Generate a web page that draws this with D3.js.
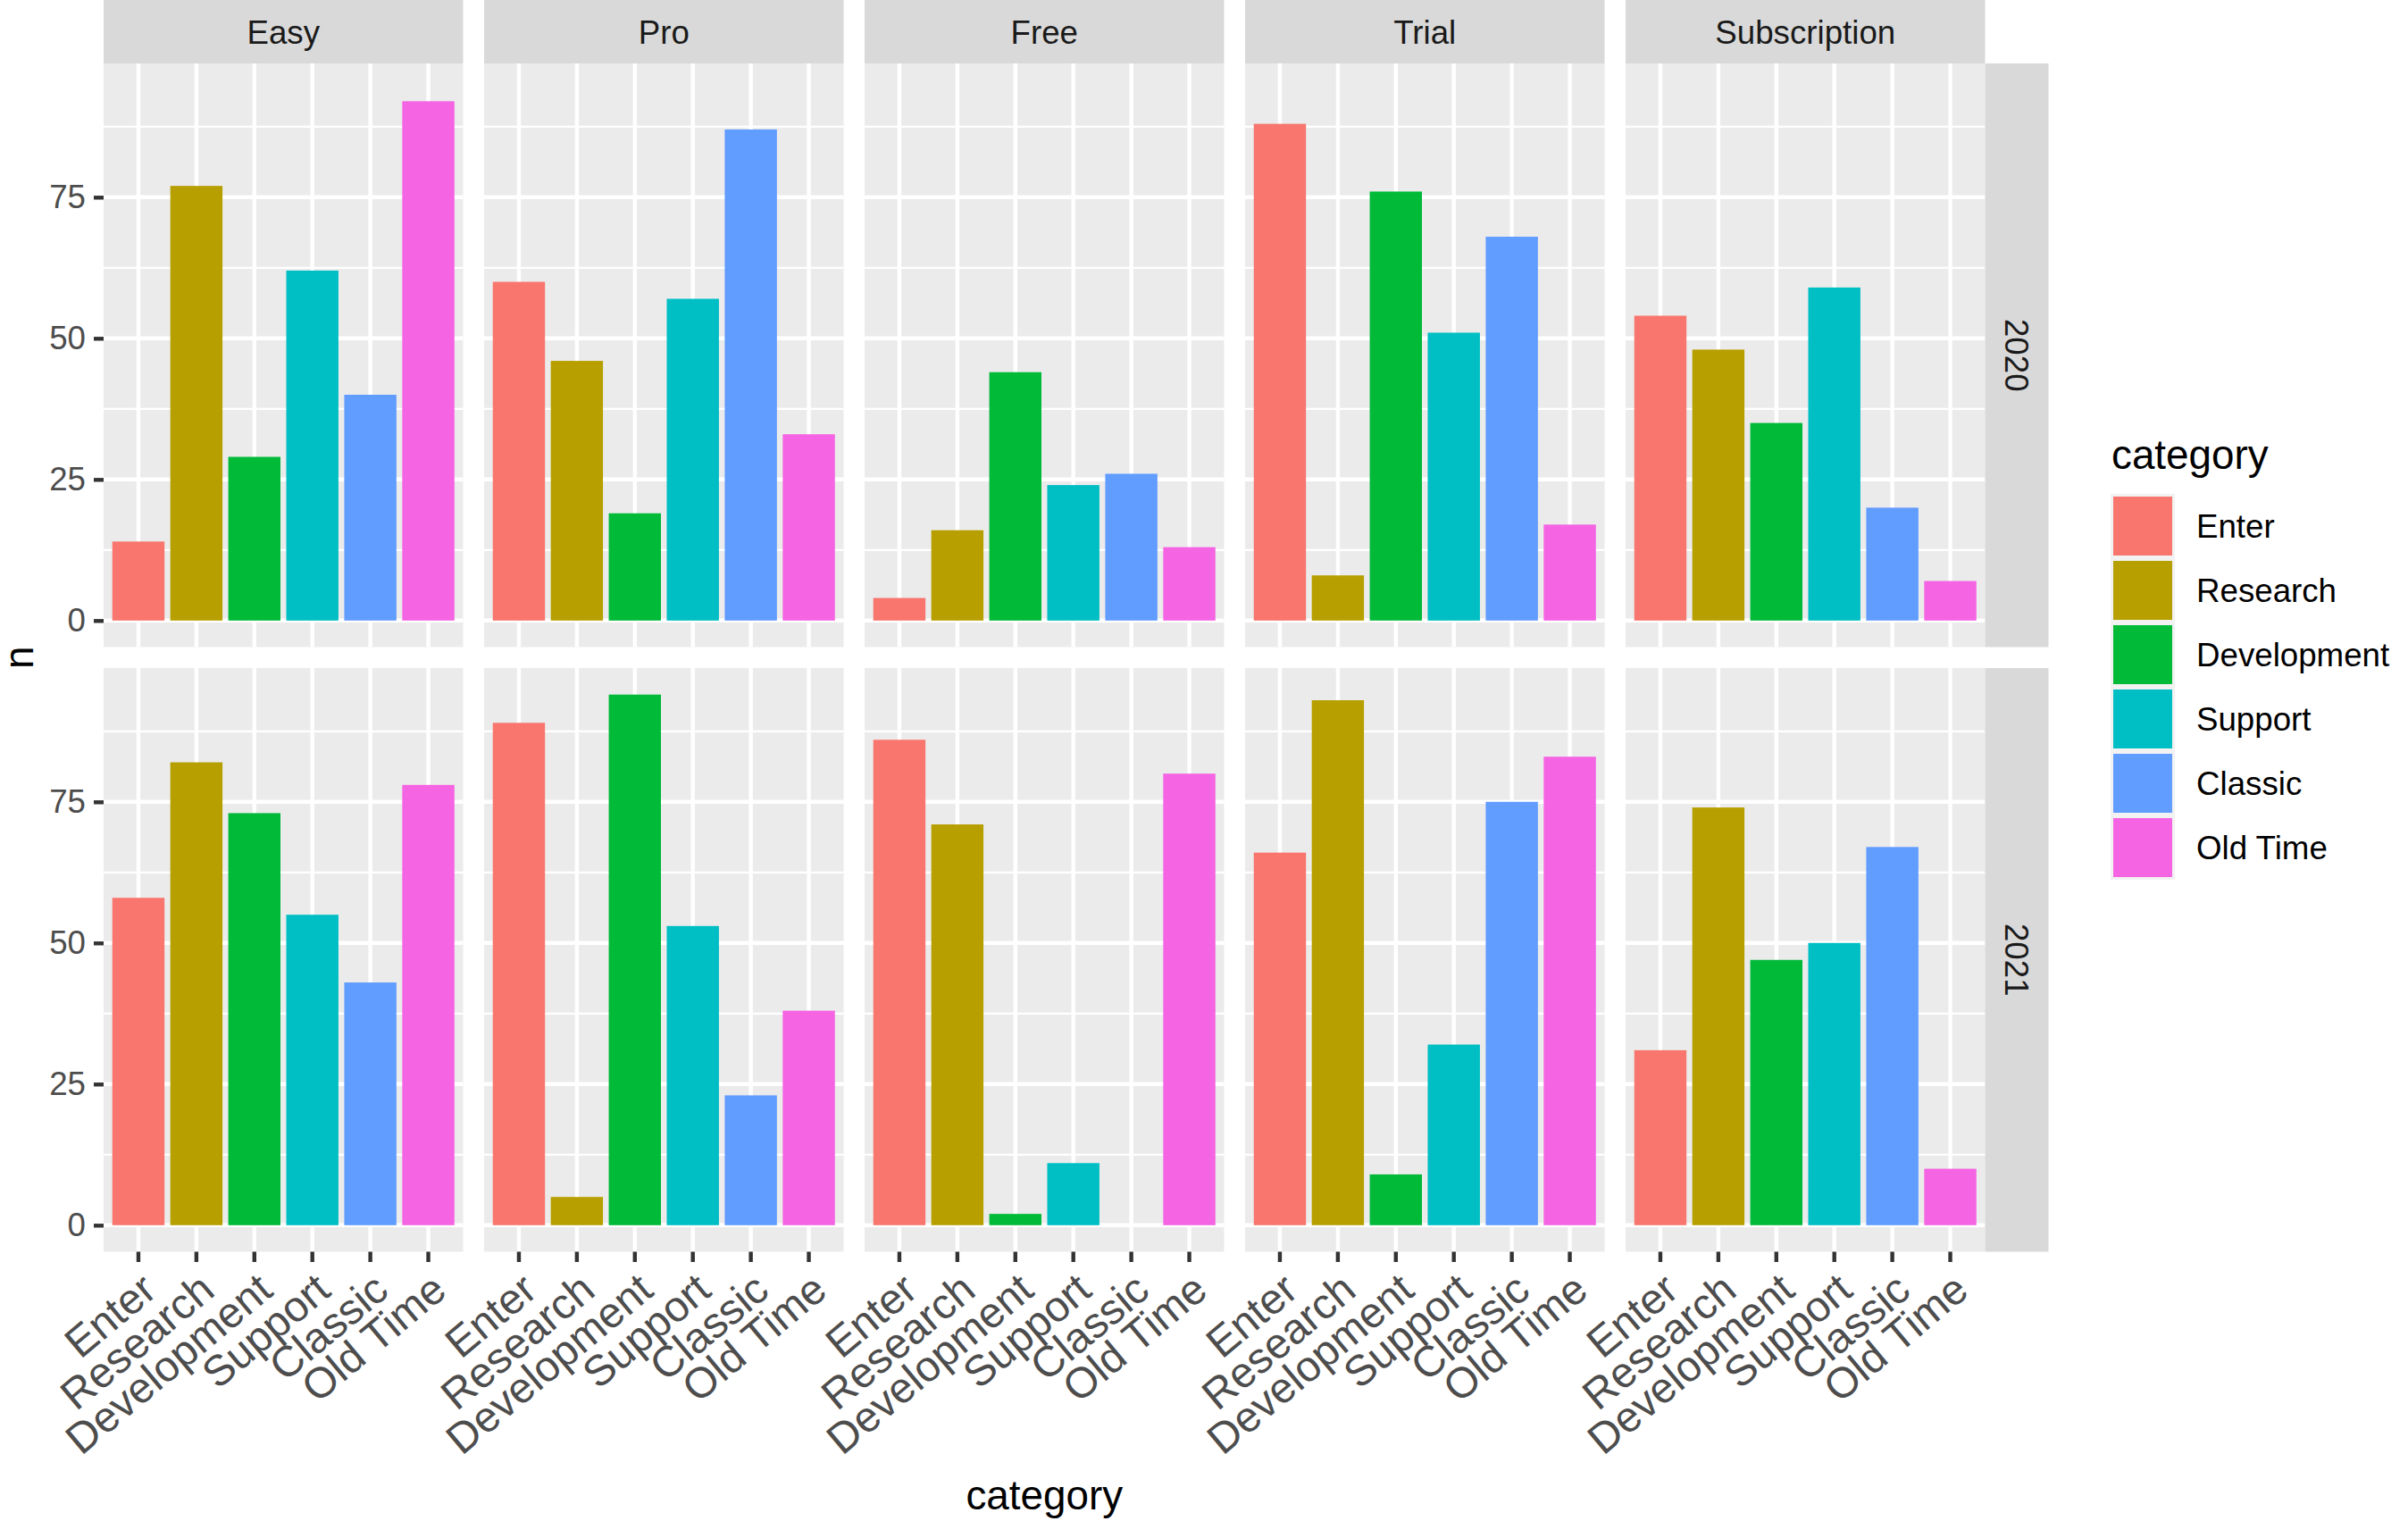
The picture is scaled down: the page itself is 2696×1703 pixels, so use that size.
<!DOCTYPE html>
<html>
<head>
<meta charset="utf-8">
<script src="https://cdn.jsdelivr.net/npm/d3@7"></script>
<style>
  body { margin: 0; background: #fff; }
  svg { display: block; font-family: "Liberation Sans", Arial, sans-serif; }
</style>
</head>
<body>
<svg id="chart"></svg>
<script>
// facet columns / rows and the x categories
const plans = ['Easy', 'Pro', 'Free', 'Trial', 'Subscription'];
const years = ['2020', '2021'];
const categories = ['Enter', 'Research', 'Development', 'Support', 'Classic', 'Old Time'];
const colors = ['#F8766D', '#B79F00', '#00BA38', '#00BFC4', '#619CFF', '#F564E3'];
const yTicks = [0, 25, 50, 75];
const yMinor = [12.5, 37.5, 62.5, 87.5];

// counts n, one array per panel, in category order (null = no bar)
const easy2020 = [14, 77, 29, 62, 40, 92];
const pro2020 = [60, 46, 19, 57, 87, 33];
const free2020 = [4, 16, 44, 24, 26, 13];
const trial2020 = [88, 8, 76, 51, 68, 17];
const subscription2020 = [54, 48, 35, 59, 20, 7];

const easy2021 = [58, 82, 73, 55, 43, 78];
const pro2021 = [89, 5, 94, 53, 23, 38];
const free2021 = [86, 71, 2, 11, null, 80];
const trial2021 = [66, 93, 9, 32, 75, 83];
const subscription2021 = [31, 74, 47, 50, 67, 10];

const panelValues = {
    '2020': [easy2020, pro2020, free2020, trial2020, subscription2020],
    '2021': [easy2021, pro2021, free2021, trial2021, subscription2021]
};

class FacetBars {

    constructor(_config) {
        this.config = {
            parentElement: _config.parentElement,
            width: 2696,
            height: 1703,
            left: 116,
            panelWidth: 402.5,
            panelGap: 23.5,
            stripSize: 71,
            panelHeight: 653.5,
            rowGap: 23.5
        };
        this.initVis();
    }

    initVis() {
        let vis = this;
        const c = vis.config;

        vis.svg = d3.select(c.parentElement)
            .attr('width', c.width)
            .attr('height', c.height);

        // ggplot style discrete scale: 0.6 expansion on each side, bars 0.9 wide
        vis.xScale = d3.scaleBand()
            .domain(categories)
            .range([0, c.panelWidth])
            .paddingInner(0.1)
            .paddingOuter(0.15);

        // continuous scale with 5% expansion
        const all = [];
        years.forEach(y => panelValues[y].forEach(a => a.forEach(v => { if (v != null) all.push(v); })));
        const lo = Math.min(0, d3.min(all)), hi = d3.max(all);
        const pad = (hi - lo) * 0.05;
        vis.yScale = d3.scaleLinear()
            .domain([lo - pad, hi + pad])
            .range([c.panelHeight, 0]);

        vis.colorScale = d3.scaleOrdinal().domain(categories).range(colors);

        vis.renderVis();
    }

    renderVis() {
        let vis = this;
        const c = vis.config;
        const step = c.panelWidth + c.panelGap;
        const rowTop = r => c.stripSize + r * (c.panelHeight + c.rowGap);

        years.forEach((year, r) => {
            plans.forEach((plan, p) => {
                const x0 = c.left + p * step;
                const g = vis.svg.append('g')
                    .attr('transform', `translate(${x0},${rowTop(r)})`);

                g.append('rect')
                    .attr('width', c.panelWidth)
                    .attr('height', c.panelHeight)
                    .attr('fill', '#EBEBEB');

                // minor then major grid
                g.selectAll('.minor').data(yMinor).join('line')
                    .attr('x1', 0).attr('x2', c.panelWidth)
                    .attr('y1', d => vis.yScale(d)).attr('y2', d => vis.yScale(d))
                    .attr('stroke', '#fff').attr('stroke-width', 2.2);
                g.selectAll('.major-y').data(yTicks).join('line')
                    .attr('x1', 0).attr('x2', c.panelWidth)
                    .attr('y1', d => vis.yScale(d)).attr('y2', d => vis.yScale(d))
                    .attr('stroke', '#fff').attr('stroke-width', 4.4);
                g.selectAll('.major-x').data(categories).join('line')
                    .attr('x1', d => vis.xScale(d) + vis.xScale.bandwidth() / 2)
                    .attr('x2', d => vis.xScale(d) + vis.xScale.bandwidth() / 2)
                    .attr('y1', 0).attr('y2', c.panelHeight)
                    .attr('stroke', '#fff').attr('stroke-width', 4.4);

                const rows = categories
                    .map((cat, i) => ({ cat: cat, n: panelValues[year][p][i] }))
                    .filter(d => d.n != null);

                g.selectAll('.bar').data(rows).join('rect')
                    .attr('x', d => vis.xScale(d.cat))
                    .attr('width', vis.xScale.bandwidth())
                    .attr('y', d => vis.yScale(d.n))
                    .attr('height', d => vis.yScale(0) - vis.yScale(d.n))
                    .attr('fill', d => vis.colorScale(d.cat));

                // top strips
                if (r === 0) {
                    vis.svg.append('rect')
                        .attr('x', x0).attr('y', 0)
                        .attr('width', c.panelWidth).attr('height', c.stripSize)
                        .attr('fill', '#D9D9D9');
                    vis.svg.append('text')
                        .attr('x', x0 + c.panelWidth / 2).attr('y', c.stripSize / 2)
                        .attr('dy', '0.37em')
                        .attr('text-anchor', 'middle')
                        .attr('font-size', 36.7)
                        .attr('fill', '#1A1A1A')
                        .text(plan);
                }

                // bottom axis on the last row
                if (r === years.length - 1) {
                    const xAxisG = vis.svg.append('g')
                        .attr('transform', `translate(${x0},${rowTop(r) + c.panelHeight})`)
                        .call(d3.axisBottom(vis.xScale).tickSize(11.5).tickPadding(0));
                    xAxisG.select('.domain').remove();
                    xAxisG.selectAll('line').attr('stroke', '#333333').attr('stroke-width', 4.4);
                    xAxisG.selectAll('text')
                        .attr('y', null).attr('dy', null)
                        .attr('transform', 'translate(0,20) rotate(-40)')
                        .attr('dy', '0.74em')
                        .attr('text-anchor', 'end')
                        .attr('font-size', 48)
                        .attr('font-family', '"Liberation Sans", Arial, sans-serif')
                        .attr('fill', '#4D4D4D');
                }
            });

            // left axis
            const yAxisG = vis.svg.append('g')
                .attr('transform', `translate(${c.left},${rowTop(r)})`)
                .call(d3.axisLeft(vis.yScale).tickValues(yTicks).tickSize(11).tickPadding(9));
            yAxisG.select('.domain').remove();
            yAxisG.selectAll('line').attr('stroke', '#333333').attr('stroke-width', 4.4);
            yAxisG.selectAll('text')
                .attr('font-size', 36.7)
                .attr('font-family', '"Liberation Sans", Arial, sans-serif')
                .attr('fill', '#4D4D4D');

            // right strip
            const sx = c.left + plans.length * step - c.panelGap;
            vis.svg.append('rect')
                .attr('x', sx).attr('y', rowTop(r))
                .attr('width', c.stripSize).attr('height', c.panelHeight)
                .attr('fill', '#D9D9D9');
            vis.svg.append('text')
                .attr('transform', `translate(${sx + c.stripSize / 2},${rowTop(r) + c.panelHeight / 2}) rotate(90)`)
                .attr('dy', '0.35em')
                .attr('text-anchor', 'middle')
                .attr('font-size', 36.7)
                .attr('fill', '#1A1A1A')
                .text(year);
        });

        const plotRight = c.left + plans.length * step - c.panelGap;
        const midY = (rowTop(0) + rowTop(1) + c.panelHeight) / 2;

        // axis titles
        vis.svg.append('text')
            .attr('x', (c.left + plotRight) / 2).attr('y', 1690)
            .attr('text-anchor', 'middle')
            .attr('font-size', 45.8)
            .attr('fill', '#000')
            .text('category');
        vis.svg.append('text')
            .attr('transform', `translate(37,${midY}) rotate(-90)`)
            .attr('text-anchor', 'middle')
            .attr('font-size', 45.8)
            .attr('fill', '#000')
            .text('n');

        // legend
        const legend = vis.svg.append('g').attr('transform', 'translate(2363,0)');
        legend.append('text')
            .attr('x', 1).attr('y', 525)
            .attr('font-size', 45.8)
            .attr('fill', '#000')
            .text('category');
        const keys = legend.selectAll('.key').data(categories).join('g')
            .attr('transform', (d, i) => `translate(0,${553 + i * 72})`);
        keys.append('rect')
            .attr('width', 72).attr('height', 72)
            .attr('fill', '#F2F2F2');
        keys.append('rect')
            .attr('x', 3).attr('y', 3)
            .attr('width', 66).attr('height', 66)
            .attr('fill', d => vis.colorScale(d));
        keys.append('text')
            .attr('x', 96).attr('y', 36)
            .attr('dy', '0.35em')
            .attr('font-size', 36.7)
            .attr('fill', '#000')
            .text(d => d);
    }
}

new FacetBars({ parentElement: '#chart' });
</script>
</body>
</html>
